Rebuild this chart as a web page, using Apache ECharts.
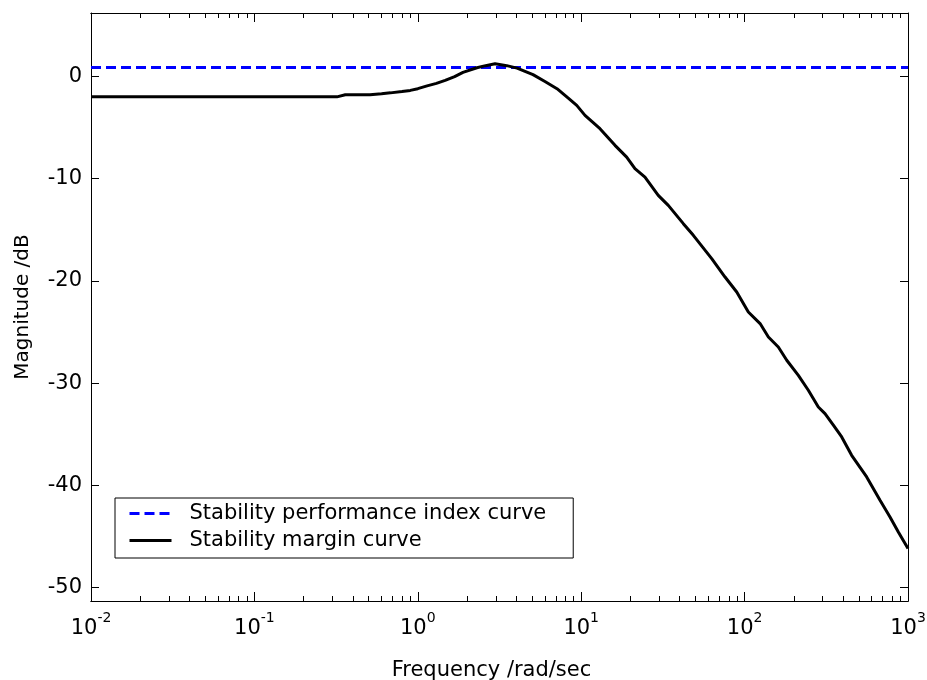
<!DOCTYPE html>
<html>
<head>
<meta charset="utf-8">
<script src="https://cdn.jsdelivr.net/npm/echarts@6/dist/echarts.min.js"></script>
<style>html,body{margin:0;padding:0;background:#fff}#c{width:927px;height:680px}</style>
</head>
<body>
<div id="c"></div>
<script>
var freq = [0.01, 0.1, 0.32, 0.36, 0.51, 0.60, 0.68, 0.80, 0.90, 1.00, 1.14, 1.30, 1.47, 1.68, 1.89, 2.30, 2.60, 2.97, 3.50, 4.05, 5.07, 6.00, 7.11, 8.3, 9.39, 10.55, 13.03, 16.10, 18.98, 21.33, 24.56, 29.62, 34.12, 42.17, 48.55, 62.91, 75.9, 89.5, 105.4, 124.4, 139.8, 160.8, 181.1, 213.3, 245.5, 282.6, 310.5, 349.3, 392.8, 452.0, 558.5, 674.3, 775.9, 872.6, 1000];
var marginCurve = [-2.0, -2.0, -2.0, -1.79, -1.79, -1.70, -1.61, -1.48, -1.37, -1.2, -0.93, -0.68, -0.39, -0.02, 0.39, 0.85, 1.05, 1.24, 1.05, 0.81, 0.17, -0.5, -1.2, -2.1, -2.83, -3.81, -5.11, -6.74, -7.89, -9.02, -9.84, -11.63, -12.61, -14.40, -15.54, -17.82, -19.62, -21.08, -23.04, -24.17, -25.48, -26.46, -27.76, -29.23, -30.69, -32.33, -32.97, -34.11, -35.26, -37.05, -39.17, -41.45, -43.08, -44.55, -46.17];
var perfFreq = [0.01, 1000];
var perfIndex = [0.86, 0.86];
var yTicks = [-50, -40, -30, -20, -10, 0];
var xDecades = [-2, -1, 0, 1, 2, 3];
var seriesNames = ['Stability performance index curve', 'Stability margin curve'];

var minorTicks = [];
xDecades.slice(0, -1).forEach(function (d) {
  for (var k = 2; k <= 9; k++) minorTicks.push(d + Math.log10(k));
});

var FONT = 'DejaVu Sans';
var chart = echarts.init(document.getElementById('c'), null, {renderer: 'canvas'});
var baseX = {
  min: 0.01, max: 1000, type: 'log', logBase: 10,
  axisLine: {show: true, onZero: false, lineStyle: {color: '#000', width: 1}},
  axisTick: {show: true, inside: true, length: 9, lineStyle: {color: '#000', width: 1}},
  splitLine: {show: false}, minorTick: {show: false}
};
var minorX = function (pos) {
  return {
    type: 'value', min: -2, max: 3, position: pos,
    axisLine: {show: true, onZero: false, lineStyle: {color: '#000', width: 1}},
    axisTick: {show: true, inside: true, length: 5, customValues: minorTicks, lineStyle: {color: '#000', width: 1}},
    axisLabel: {show: false}, splitLine: {show: false}
  };
};
var option = {
  animation: false,
  backgroundColor: '#fff',
  grid: {left: 91, right: 19, top: 13, bottom: 79, containLabel: false, outerBoundsMode: 'none'},
  legend: {
    orient: 'vertical', left: 115, top: 498,
    data: seriesNames,
    backgroundColor: '#fff', borderColor: '#000', borderWidth: 1, borderRadius: 0,
    padding: [5, 27, 7, 13], itemGap: 6, itemWidth: 42, itemHeight: 14,
    itemStyle: {opacity: 0},
    lineStyle: {width: 3},
    textStyle: {fontFamily: FONT, fontSize: 21, color: '#000', padding: [0, 0, 0, 13]},
    selectedMode: false
  },
  xAxis: [
    Object.assign({}, baseX, {
      position: 'bottom', name: 'Frequency /rad/sec', nameLocation: 'middle', nameGap: 59,
      nameTextStyle: {fontFamily: FONT, fontSize: 21, color: '#000', padding: [0, 16, 0, 0]},
      axisLabel: {
        show: true, margin: 10, color: '#000',
        formatter: function (v) { return '{b|10}{s|' + Math.round(Math.log10(v)) + '}'; },
        rich: {
          b: {fontFamily: FONT, fontSize: 21, color: '#000', lineHeight: 28, verticalAlign: 'bottom'},
          s: {fontFamily: FONT, fontSize: 14, color: '#000', lineHeight: 28, verticalAlign: 'top'}
        }
      }
    }),
    Object.assign({}, baseX, {position: 'top', axisLabel: {show: false}}),
    minorX('bottom'),
    minorX('top')
  ],
  yAxis: [
    {
      type: 'value', min: -51.3, max: 6.2, position: 'left',
      name: 'Magnitude /dB', nameLocation: 'middle', nameGap: 58, nameRotate: 90,
      nameTextStyle: {fontFamily: FONT, fontSize: 20, color: '#000'},
      axisLine: {show: true, onZero: false, lineStyle: {color: '#000', width: 1}},
      axisTick: {show: true, inside: true, length: 8, customValues: yTicks, lineStyle: {color: '#000', width: 1}},
      axisLabel: {show: true, margin: 9, customValues: yTicks, fontFamily: FONT, fontSize: 21, color: '#000'},
      splitLine: {show: false}
    },
    {
      type: 'value', min: -51.3, max: 6.2, position: 'right',
      axisLine: {show: true, onZero: false, lineStyle: {color: '#000', width: 1}},
      axisTick: {show: true, inside: true, length: 8, customValues: yTicks, lineStyle: {color: '#000', width: 1}},
      axisLabel: {show: false}, splitLine: {show: false}
    }
  ],
  series: [
    {
      name: seriesNames[0], type: 'line', xAxisIndex: 0, yAxisIndex: 0,
      data: perfFreq.map(function (f, i) { return [f, perfIndex[i]]; }),
      symbol: 'none', showSymbol: false, z: 3,
      lineStyle: {color: '#0000ff', width: 3, type: [10, 5]},
      itemStyle: {color: '#0000ff'}
    },
    {
      name: seriesNames[1], type: 'line', xAxisIndex: 0, yAxisIndex: 0,
      data: freq.map(function (f, i) { return [f, marginCurve[i]]; }),
      symbol: 'none', showSymbol: false, z: 4,
      lineStyle: {color: '#000', width: 3},
      itemStyle: {color: '#000'}
    }
  ]
};
chart.setOption(option);
</script>
</body>
</html>
